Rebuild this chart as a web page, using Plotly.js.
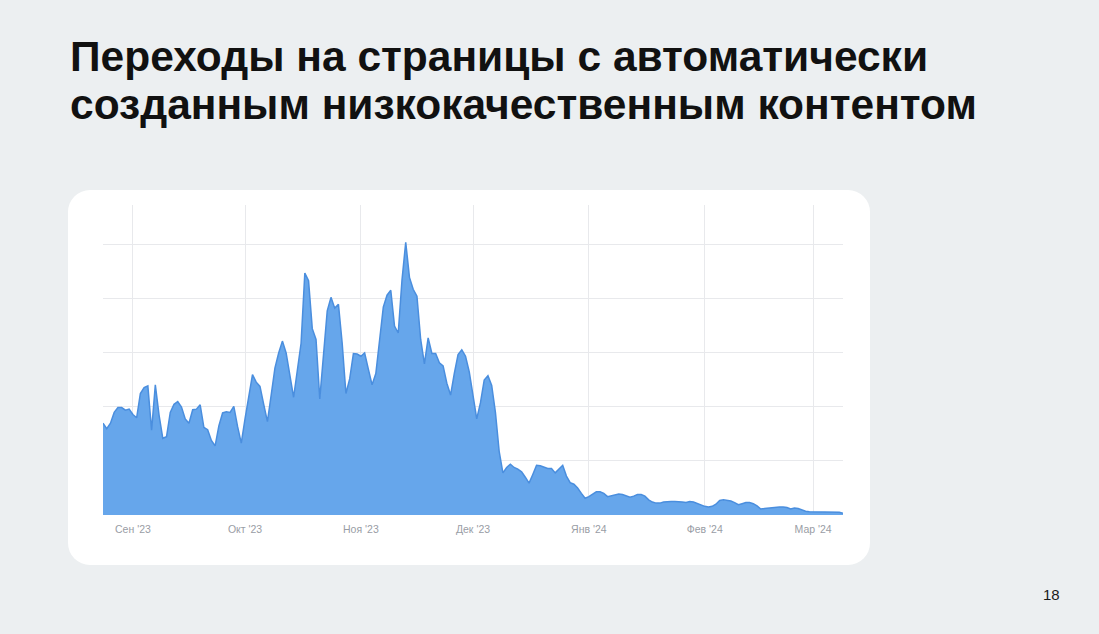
<!DOCTYPE html>
<html>
<head>
<meta charset="utf-8">
<script src="https://cdn.plot.ly/plotly-3.0.1.min.js"></script>
<style>
  html, body { margin: 0; padding: 0; }
  body { width: 1099px; height: 634px; background: #eceff1; position: relative; overflow: hidden;
         font-family: "Liberation Sans", Arial, sans-serif; }
  #title { position: absolute; left: 70px; top: 33px; font-size: 42.5px; line-height: 48px;
           font-weight: bold; color: #111; }
  #card { position: absolute; left: 68px; top: 190px; width: 802px; height: 375px;
          background: #fff; border-radius: 22px; overflow: hidden; }
  #gplot { width: 802px; height: 375px; }
  #page { position: absolute; left: 1043px; top: 586px; font-size: 15px; color: #1a1a1a; }
</style>
</head>
<body>
<div id="title">Переходы на страницы с автоматически<br>созданным низкокачественным контентом</div>
<div id="card"><div id="gplot"></div></div>
<div id="page">18</div>
<script>
// daily visits, Aug 24 2023 - Mar 9 2024 (one gridline = 100)
var startDay = '2023-08-24';
var visits = [
  170, 160, 170, 190, 199, 199, 194, 196, 186, 180,
  225, 236, 239, 157, 241, 185, 142, 145, 190, 205,
  210, 200, 178, 170, 195, 196, 204, 162, 158, 138,
  128, 165, 189, 191, 190, 201, 164, 133, 178, 222,
  260, 246, 238, 205, 173, 222, 272, 300, 322, 300,
  258, 218, 268, 318, 448, 434, 345, 325, 215, 300,
  378, 403, 383, 390, 318, 225, 252, 299, 298, 294,
  300, 270, 241, 262, 325, 385, 407, 416, 350, 337,
  435, 505, 440, 418, 405, 325, 280, 328, 299, 299,
  282, 276, 244, 222, 262, 297, 306, 294, 265, 222,
  178, 208, 250, 258, 240, 190, 118, 78, 88, 94,
  88, 85, 80, 70, 59, 75, 92, 91, 88, 86,
  86, 78, 85, 92, 72, 60, 57, 50, 40, 31,
  34, 39, 43, 43, 40, 34, 36, 38, 39, 38,
  35, 33, 35, 38, 38, 35, 28, 24, 22, 22,
  24, 25, 25, 25, 25, 24, 23, 25, 24, 21,
  18, 16, 15, 16, 20, 27, 28, 27, 26, 23,
  19, 21, 23, 23, 21, 17, 11, 12, 13, 14,
  15, 15, 15, 14, 11, 13, 12, 9, 7, 6,
  6, 6, 6, 6, 6, 6, 6, 5, 3
];
var monthStarts = ['2023-09-01', '2023-10-01', '2023-11-01', '2023-12-01', '2024-01-01', '2024-02-01', '2024-03-01'];
var monthLabels = ["Сен '23", "Окт '23", "Ноя '23", "Дек '23", "Янв '24", "Фев '24", "Мар '24"];

var days = [];
var d0 = new Date(startDay + 'T00:00:00Z');
for (var i = 0; i < visits.length; i++) {
    var d = new Date(d0.getTime() + i * 86400000);
    days.push(d.toISOString().slice(0, 10));
}

var trace1 = {
    x: days,
    y: visits,
    type: 'scatter',
    mode: 'lines',
    fill: 'tozeroy',
    fillcolor: 'rgb(102,166,235)',
    line: {
        color: 'rgb(74,142,222)',
        width: 1.5
    },
    hoverinfo: 'x+y'
};

var layout = {
    width: 802,
    height: 375,
    paper_bgcolor: 'rgba(0,0,0,0)',
    plot_bgcolor: 'rgba(0,0,0,0)',
    margin: { l: 35, r: 27, t: 15, b: 50, pad: 0 },
    showlegend: false,
    xaxis: {
        type: 'date',
        range: [days[0], days[days.length - 1]],
        tickvals: monthStarts,
        ticktext: monthLabels,
        showgrid: true,
        gridcolor: '#e8e9ec',
        gridwidth: 1,
        zeroline: false,
        showline: false,
        ticks: '',
        ticklabelstandoff: 6,
        tickfont: { family: 'Liberation Sans, Arial, sans-serif', size: 10.5, color: '#999da5' }
    },
    yaxis: {
        range: [0, 574],
        dtick: 100,
        showticklabels: false,
        showgrid: true,
        gridcolor: '#e8e9ec',
        gridwidth: 1,
        zeroline: false,
        showline: false,
        ticks: ''
    }
};

Plotly.newPlot('gplot', [trace1], layout, { displayModeBar: false, staticPlot: true });
</script>
</body>
</html>
